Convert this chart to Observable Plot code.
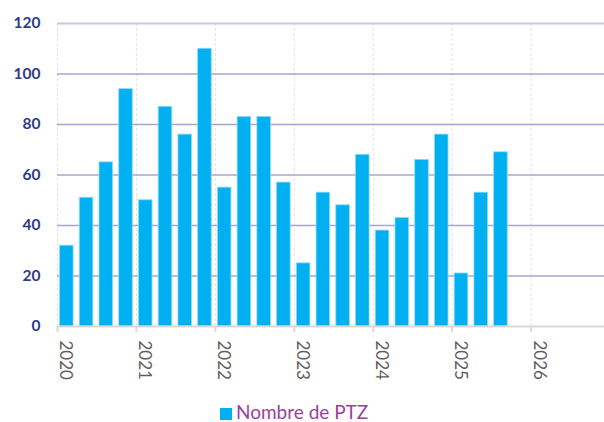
<!DOCTYPE html>
<html><head><meta charset="utf-8">
<script src="https://cdn.jsdelivr.net/npm/d3@7"></script>
<script src="https://cdn.jsdelivr.net/npm/@observablehq/plot@0.6"></script>
<style>
body{margin:0;background:#fff;font-family:Lato,"Open Sans",sans-serif;width:604px;height:422px;position:relative;overflow:hidden}
#legend{position:absolute;left:220px;top:403px;display:flex;align-items:center;font-size:19px;color:#9b3f9d;line-height:18px;height:18px}
#legend .sw{width:12px;height:12px;background:#00b0f0;margin-right:4px;margin-top:3px}
</style>
</head><body><div id="chart"></div><div id="legend"><span class="sw"></span><span id="legtext"></span></div>
<script>
const periods = ["2020-Q1","2020-Q2","2020-Q3","2020-Q4","2021-Q1","2021-Q2","2021-Q3","2021-Q4",
  "2022-Q1","2022-Q2","2022-Q3","2022-Q4","2023-Q1","2023-Q2","2023-Q3","2023-Q4",
  "2024-Q1","2024-Q2","2024-Q3","2024-Q4","2025-Q1","2025-Q2","2025-Q3"];
const ptz = [32,51,65,94,50,87,76,110,55,83,83,57,25,53,48,68,38,43,66,76,21,53,69];
const seriesName = "Nombre de PTZ";
const yearTicks = [2020,2021,2022,2023,2024,2025,2026];
const yTicks = [0,20,40,60,80,100,120];

document.getElementById("legtext").textContent = seriesName;

const data = periods.map((p, i) => {
  const [y, q] = p.split("-Q");
  return {t: +y + (+q - 1) / 4, v: ptz[i]};
});

const chart = Plot.plot({
  width: 604,
  height: 392,
  marginLeft: 57,
  marginRight: 0,
  marginTop: 23,
  marginBottom: 66,
  style: {fontFamily: "Lato, 'Open Sans', sans-serif", background: "#fff"},
  x: {type: "linear", domain: [2020, 2026.93]},
  y: {domain: [0, 120]},
  marks: [
    Plot.ruleX(yearTicks, {y1: 0, y2: 120, stroke: "#e2e2e2", strokeWidth: 1, strokeDasharray: "3,2"}),
    Plot.ruleY(yTicks.filter(d => d > 0 && d < 120), {stroke: "#a3a7cf", strokeWidth: 1.4}),
    Plot.ruleY([120], {stroke: "#c8cae3", strokeWidth: 2.2}),
    Plot.rectY(data, {x1: d => d.t + 0.032, x2: d => d.t + 0.204, y: "v", fill: "#00b0f0", stroke: "#8fdaf7", strokeWidth: 0.8}),
    Plot.ruleY([0], {stroke: "#d9d9d9", strokeWidth: 2}),
    Plot.axisY({ticks: yTicks, tickSize: 0, tickPadding: 17, tickFormat: d => String(d), fontSize: 15.5, fontWeight: "bold", fill: "#2f3a8f", label: null}),
    Plot.axisX({ticks: yearTicks, tickFormat: () => null, tickSize: 6, stroke: "#d9d9d9", strokeWidth: 2, label: null}),
    Plot.axisX({ticks: yearTicks, tickFormat: d => String(d), tickSize: 0, tickRotate: 90, tickPadding: 14, dx: 8, fontSize: 17, fill: "#5f5f5f", label: null})
  ]
});
document.getElementById("chart").appendChild(chart);
</script>
</body></html>
